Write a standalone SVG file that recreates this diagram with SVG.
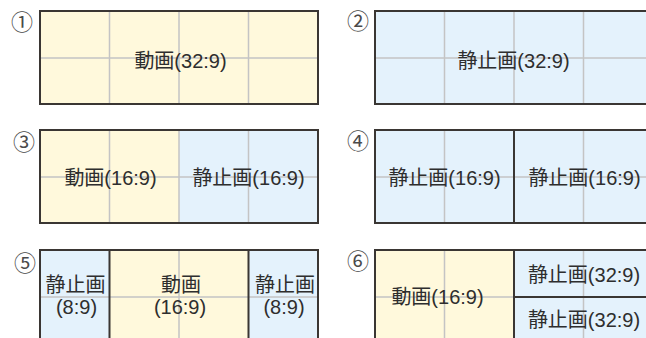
<svg xmlns="http://www.w3.org/2000/svg" width="646" height="338" viewBox="0 0 646 338">
<style>
.y{fill:#fff9dc}
.b{fill:#e4f2fc}
.g{stroke:#c4c4c4;stroke-width:1.5;fill:none}
.k{stroke:#3a3633;stroke-width:2;fill:none}
.t{font-family:"Liberation Sans","Noto Sans CJK JP",sans-serif;font-size:20px;fill:#2e2e2e;text-anchor:middle}
.n{font-family:"Noto Sans CJK JP",sans-serif;font-size:22px;fill:#4a4a4a;text-anchor:middle}
</style>
<rect width="646" height="338" fill="#ffffff"/>
<g id="panel1">
<text class="n" x="22" y="29.5">①</text>
<rect class="y" x="40" y="11" width="278" height="93"/>
<path class="g" d="M109.5 11V104M179 11V104M248.5 11V104M40 58H318"/>
<rect class="k" x="40" y="11" width="278" height="93"/>
<text class="t" x="180.5" y="67.5">動画(32:9)</text>
</g>
<g id="panel2">
<text class="n" x="358" y="28.5">②</text>
<rect class="b" x="375" y="11" width="278" height="93"/>
<path class="g" d="M444.5 11V104M514 11V104M583.5 11V104M375 58H653"/>
<rect class="k" x="375" y="11" width="278" height="93"/>
<text class="t" x="513.5" y="67.5">静止画(32:9)</text>
</g>
<g id="panel3">
<text class="n" x="24" y="149.5">③</text>
<rect class="y" x="40" y="130" width="139" height="93"/>
<rect class="b" x="179" y="130" width="139" height="93"/>
<path class="g" d="M109.5 130V223M179 130V223M248.5 130V223M40 177H318"/>
<rect class="k" x="40" y="130" width="278" height="93"/>
<text class="t" x="110.5" y="184.5">動画(16:9)</text>
<text class="t" x="248.5" y="184.5">静止画(16:9)</text>
</g>
<g id="panel4">
<text class="n" x="358" y="148.5">④</text>
<rect class="b" x="375" y="130" width="278" height="93"/>
<path class="g" d="M444.5 130V223M583.5 130V223M375 177H653"/>
<path class="k" d="M514 130V223"/>
<rect class="k" x="375" y="130" width="278" height="93"/>
<text class="t" x="444.5" y="184.5">静止画(16:9)</text>
<text class="t" x="584.5" y="184.5">静止画(16:9)</text>
</g>
<g id="panel5">
<text class="n" x="25" y="270.5">⑤</text>
<rect class="b" x="40" y="250" width="69.5" height="93"/>
<rect class="y" x="109.5" y="250" width="139" height="93"/>
<rect class="b" x="248.5" y="250" width="69.5" height="93"/>
<path class="g" d="M179 250V343M40 297H318"/>
<path class="k" d="M109.5 250V343M248.5 250V343"/>
<rect class="k" x="40" y="250" width="278" height="93"/>
<text class="t" x="75.5" y="291.5">静止画</text>
<text class="t" x="76.5" y="314">(8:9)</text>
<text class="t" x="181" y="291.5">動画</text>
<text class="t" x="180" y="314">(16:9)</text>
<text class="t" x="285" y="291.5">静止画</text>
<text class="t" x="284" y="314">(8:9)</text>
</g>
<g id="panel6">
<text class="n" x="358" y="268.5">⑥</text>
<rect class="y" x="375" y="250" width="139" height="93"/>
<rect class="b" x="514" y="250" width="139" height="93"/>
<path class="g" d="M444.5 250V343M583.5 250V343M375 297H514"/>
<path class="k" d="M514 250V343M514 297H653"/>
<rect class="k" x="375" y="250" width="278" height="93"/>
<text class="t" x="437.5" y="304">動画(16:9)</text>
<text class="t" x="584" y="281.5">静止画(32:9)</text>
<text class="t" x="584" y="327">静止画(32:9)</text>
</g>
</svg>
